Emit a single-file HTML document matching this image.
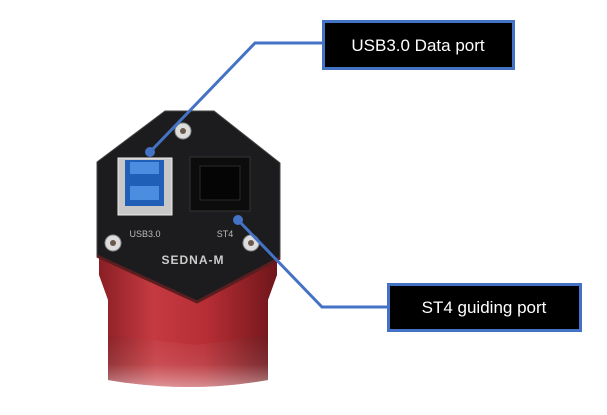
<!DOCTYPE html>
<html><head><style>
html,body{margin:0;padding:0;background:#fff;}
body{width:607px;height:410px;overflow:hidden;}
</style></head><body>
<svg width="607" height="410" viewBox="0 0 607 410" xmlns="http://www.w3.org/2000/svg">
<defs>
<linearGradient id="red" x1="0" x2="1" y1="0" y2="0">
<stop offset="0" stop-color="#8a1f25"/><stop offset="0.3" stop-color="#c43a40"/><stop offset="0.6" stop-color="#b82e35"/><stop offset="1" stop-color="#6e161b"/>
</linearGradient>
<linearGradient id="cyl" x1="0" x2="0" y1="0" y2="1">
<stop offset="0" stop-color="#fff" stop-opacity="0"/><stop offset="0.6" stop-color="#fff" stop-opacity="0.1"/><stop offset="1" stop-color="#fff" stop-opacity="0.45"/>
</linearGradient>
</defs>
<rect width="607" height="410" fill="#fff"/>
<path d="M108 330 L108 380 Q188 394 268 380 L268 330 Z" fill="url(#red)"/>
<path d="M108 330 L108 380 Q188 394 268 380 L268 330 Z" fill="url(#cyl)"/>
<path d="M99 240 L99 275 L108 300 L108 335 L197 345 L268 335 L268 300 L277 275 L277 240 Z" fill="url(#red)"/>
<path d="M97 162 L165 111 L214 111 L280 163 L280 258 L197 302 L97 256 Z" fill="#1c1c1e" stroke="#444" stroke-width="1"/>
<path d="M97 256 L197 302 L280 258" fill="none" stroke="#5a1d20" stroke-width="3"/>
<g fill="#ddd" stroke="#888"><circle cx="183" cy="131" r="8"/><circle cx="113" cy="243" r="8"/><circle cx="251" cy="243" r="8"/></g>
<g fill="#6a5a4a"><circle cx="183" cy="131" r="3"/><circle cx="113" cy="243" r="3"/><circle cx="251" cy="243" r="3"/></g>
<rect x="118" y="158" width="54" height="57" fill="#c8c8c8" stroke="#eee"/>
<rect x="125" y="160" width="39" height="46" fill="#1f5fb8"/>
<rect x="130" y="162" width="29" height="12" fill="#4b8ee0"/>
<rect x="130" y="186" width="29" height="14" fill="#4b8ee0"/>
<rect x="190" y="157" width="60" height="54" fill="#0c0c0c" stroke="#333"/>
<rect x="200" y="166" width="40" height="34" fill="#050505" stroke="#2a2a2a"/>
<text x="145" y="237" font-family="Liberation Sans, sans-serif" font-size="9" fill="#bbb" text-anchor="middle">USB3.0</text>
<text x="225" y="237" font-family="Liberation Sans, sans-serif" font-size="9" fill="#bbb" text-anchor="middle">ST4</text>
<text x="193" y="264" font-family="Liberation Sans, sans-serif" font-size="12" font-weight="bold" fill="#ccc" text-anchor="middle" letter-spacing="1">SEDNA-M</text>
<polyline points="150,152 255,43 322,43" fill="none" stroke="#4472c4" stroke-width="3"/>
<circle cx="150" cy="152" r="5" fill="#4472c4"/>
<polyline points="238,220 322,307 387,307" fill="none" stroke="#4472c4" stroke-width="3"/>
<circle cx="238" cy="220" r="5" fill="#4472c4"/>
<rect x="323.5" y="21.5" width="190" height="47" fill="#000" stroke="#4472c4" stroke-width="3"/>
<text x="418" y="51" font-family="Liberation Sans, sans-serif" font-size="17" fill="#fff" text-anchor="middle">USB3.0 Data port</text>
<rect x="388.5" y="284.5" width="192" height="46" fill="#000" stroke="#4472c4" stroke-width="3"/>
<text x="484" y="313" font-family="Liberation Sans, sans-serif" font-size="17" fill="#fff" text-anchor="middle">ST4 guiding port</text>
</svg>
</body></html>
